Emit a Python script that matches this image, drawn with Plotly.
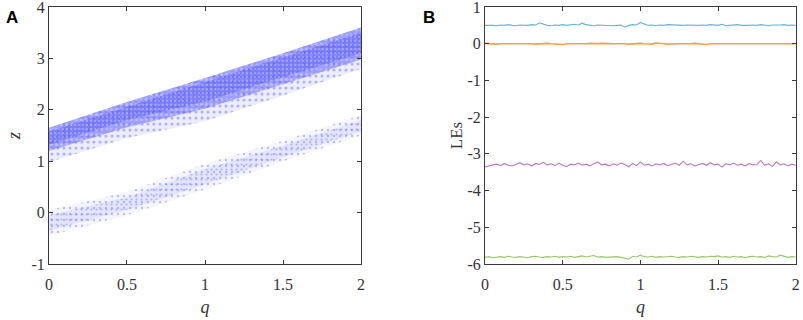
import plotly.graph_objects as go

# ---------------- Panel A: band outlines ----------------
q_edge = [0.0, 0.5, 1.0, 1.5, 2.0]
upper_top = [1.65, 2.15, 2.62, 3.10, 3.60]
upper_core_top = [1.58, 2.06, 2.54, 3.02, 3.50]
upper_core_bottom = [1.32, 1.80, 2.16, 2.64, 3.10]
upper_dense_bottom = [1.20, 1.66, 2.02, 2.50, 2.98]
upper_tail_bottom = [0.98, 1.45, 1.78, 2.28, 2.80]
lower_top = [0.05, 0.40, 0.95, 1.40, 1.90]
lower_core_top = [-0.05, 0.30, 0.85, 1.30, 1.80]
lower_core_bottom = [-0.35, 0.05, 0.55, 1.08, 1.58]
lower_bottom = [-0.45, -0.05, 0.45, 1.00, 1.50]

# ---------------- Panel B: Lyapunov exponents ----------------
q_le = [0.0, 0.025, 0.05, 0.075, 0.1, 0.125, 0.15, 0.175, 0.2, 0.225,
        0.25, 0.275, 0.3, 0.325, 0.35, 0.375, 0.4, 0.425, 0.45, 0.475,
        0.5, 0.525, 0.55, 0.575, 0.6, 0.625, 0.65, 0.675, 0.7, 0.725,
        0.75, 0.775, 0.8, 0.825, 0.85, 0.875, 0.9, 0.925, 0.95, 0.975,
        1.0, 1.025, 1.05, 1.075, 1.1, 1.125, 1.15, 1.175, 1.2, 1.225,
        1.25, 1.275, 1.3, 1.325, 1.35, 1.375, 1.4, 1.425, 1.45, 1.475,
        1.5, 1.525, 1.55, 1.575, 1.6, 1.625, 1.65, 1.675, 1.7, 1.725,
        1.75, 1.775, 1.8, 1.825, 1.85, 1.875, 1.9, 1.925, 1.95, 1.975,
        2.0]
le1 = [0.50, 0.51, 0.50, 0.49, 0.51, 0.50, 0.52, 0.50, 0.49, 0.51,
       0.50, 0.50, 0.52, 0.51, 0.57, 0.53, 0.50, 0.49, 0.51, 0.50,
       0.52, 0.50, 0.51, 0.53, 0.51, 0.56, 0.52, 0.50, 0.49, 0.51,
       0.50, 0.51, 0.50, 0.49, 0.50, 0.51, 0.45, 0.50, 0.52, 0.51,
       0.58, 0.53, 0.50, 0.51, 0.49, 0.51, 0.50, 0.52, 0.51, 0.50,
       0.49, 0.50, 0.51, 0.50, 0.49, 0.50, 0.51, 0.50, 0.52, 0.51,
       0.50, 0.53, 0.49, 0.50, 0.51, 0.52, 0.50, 0.49, 0.50, 0.51,
       0.50, 0.52, 0.50, 0.49, 0.51, 0.50, 0.51, 0.52, 0.50, 0.51,
       0.50]
le2 = [0.01, 0.00, 0.00, -0.01, 0.00, 0.01, 0.00, 0.00, -0.01, 0.00,
       0.00, 0.01, 0.00, -0.01, 0.00, 0.00, 0.01, 0.00, -0.01, 0.00,
       -0.02, 0.00, 0.01, 0.00, 0.00, -0.01, 0.00, 0.01, 0.00, 0.00,
       0.01, 0.00, -0.01, 0.00, 0.00, 0.01, 0.00, -0.01, 0.00, 0.00,
       0.01, 0.00, 0.00, -0.01, 0.02, 0.00, 0.00, -0.01, 0.00, 0.01,
       0.00, 0.00, -0.01, 0.00, 0.01, 0.00, 0.00, -0.02, 0.00, 0.00,
       0.01, 0.00, -0.01, 0.00, 0.00, 0.01, 0.00, 0.00, -0.01, 0.00,
       0.00, 0.01, 0.00, 0.00, -0.01, 0.00, 0.01, 0.00, 0.00, 0.00,
       0.00]
le3 = [-3.36, -3.32, -3.30, -3.28, -3.32, -3.26, -3.31, -3.33, -3.28, -3.24,
       -3.30, -3.27, -3.33, -3.26, -3.29, -3.23, -3.30, -3.27, -3.32, -3.25,
       -3.31, -3.35, -3.28, -3.30, -3.25, -3.31, -3.28, -3.33, -3.27, -3.22,
       -3.30, -3.28, -3.33, -3.27, -3.31, -3.25, -3.29, -3.35, -3.26, -3.32,
       -3.22, -3.31, -3.28, -3.33, -3.27, -3.30, -3.26, -3.32, -3.29, -3.25,
       -3.31, -3.20, -3.30, -3.27, -3.33, -3.29, -3.26, -3.31, -3.24, -3.30,
       -3.28, -3.36, -3.27, -3.30, -3.25, -3.31, -3.28, -3.33, -3.26, -3.30,
       -3.29, -3.18, -3.31, -3.27, -3.34, -3.22, -3.30, -3.27, -3.33, -3.28,
       -3.31]
le4 = [-5.82, -5.80, -5.83, -5.81, -5.80, -5.82, -5.79, -5.81, -5.82, -5.80,
       -5.81, -5.83, -5.80, -5.79, -5.81, -5.82, -5.80, -5.81, -5.79, -5.82,
       -5.80, -5.81, -5.79, -5.82, -5.80, -5.78, -5.81, -5.80, -5.77, -5.81,
       -5.80, -5.82, -5.81, -5.79, -5.80, -5.82, -5.84, -5.87, -5.79, -5.81,
       -5.76, -5.80, -5.81, -5.79, -5.82, -5.80, -5.81, -5.80, -5.79, -5.81,
       -5.82, -5.80, -5.81, -5.79, -5.80, -5.82, -5.80, -5.81, -5.79, -5.80,
       -5.78, -5.81, -5.80, -5.82, -5.79, -5.81, -5.80, -5.83, -5.80, -5.79,
       -5.81, -5.80, -5.82, -5.78, -5.80, -5.81, -5.76, -5.80, -5.82, -5.80,
       -5.81]

x_ticks = [0, 0.5, 1, 1.5, 2]
x_tick_text = ["0", "0.5", "1", "1.5", "2"]
yA_ticks = [-1, 0, 1, 2, 3, 4]
yA_tick_text = ["-1", "0", "1", "2", "3", "4"]
yB_ticks = [-6, -5, -4, -3, -2, -1, 0, 1]
yB_tick_text = ["-6", "-5", "-4", "-3", "-2", "-1", "0", "1"]

SERIF = "Liberation Serif, Times New Roman, serif"
AXC = "#3a3a3a"

fig = go.Figure()


def add_band(top, bottom, fillcolor, size, sol, fg):
    bx = q_edge + q_edge[::-1]
    by = top + bottom[::-1]
    fig.add_trace(go.Scatter(
        x=bx, y=by, fill="toself", mode="lines", line=dict(width=0),
        fillcolor=fillcolor,
        fillpattern=dict(shape=".", size=size, solidity=sol, fgcolor=fg,
                         fillmode="overlay"),
        hoverinfo="skip", showlegend=False, xaxis="x", yaxis="y"))


# upper band: faint outer tail, medium body, denser core (white speckles on blue)
add_band(upper_top, upper_tail_bottom, "rgba(110,110,255,0.12)", 6, 0.20, "rgba(90,90,255,0.85)")
add_band(upper_top, upper_dense_bottom, "rgba(95,95,255,0.55)", 5, 0.30, "rgba(255,255,255,0.65)")
add_band(upper_core_top, upper_core_bottom, "rgba(75,75,250,0.45)", 4, 0.25, "rgba(255,255,255,0.55)")
# lower band: sparse
add_band(lower_top, lower_bottom, "rgba(130,130,255,0.08)", 6, 0.14, "rgba(110,110,255,0.85)")
add_band(lower_core_top, lower_core_bottom, "rgba(120,120,255,0.12)", 5, 0.14, "rgba(100,100,255,0.85)")

# Lyapunov exponents
for vals, col, w in [(le1, "#64b4e6", 1.1), (le2, "#f0a050", 1.6),
                     (le3, "#b877c8", 1.1), (le4, "#98c86a", 1.1)]:
    fig.add_trace(go.Scatter(x=q_le, y=vals, mode="lines",
                             line=dict(color=col, width=w),
                             showlegend=False, xaxis="x2", yaxis="y2"))

axis_common = dict(showline=True, linecolor=AXC, linewidth=1, mirror="ticks",
                   ticks="inside", ticklen=4, tickcolor=AXC, showgrid=False,
                   zeroline=False, automargin=False, ticklabeloverflow="allow",
                   tickfont=dict(family=SERIF, size=16, color="#333"))

fig.update_layout(
    width=803, height=320,
    margin=dict(l=0, r=0, t=0, b=0),
    paper_bgcolor="white", plot_bgcolor="white",
    xaxis=dict(domain=[0.061, 0.4496], range=[0, 2], tickvals=x_ticks,
               ticktext=x_tick_text, anchor="y", ticklabelstandoff=6,
               title=dict(text="<i>q</i>", font=dict(family=SERIF, size=18, color="#333"),
                          standoff=8),
               **axis_common),
    yaxis=dict(domain=[0.175, 0.978], range=[-1, 4], tickvals=yA_ticks,
               ticktext=yA_tick_text, anchor="x",
               title=dict(text="<i>z</i>", font=dict(family=SERIF, size=18, color="#333"),
                          standoff=6),
               **axis_common),
    xaxis2=dict(domain=[0.604, 0.991], range=[0, 2], tickvals=x_ticks,
                ticktext=x_tick_text, anchor="y2", ticklabelstandoff=6,
                title=dict(text="<i>q</i>", font=dict(family=SERIF, size=18, color="#333"),
                           standoff=8),
                **axis_common),
    yaxis2=dict(domain=[0.175, 0.978], range=[-6, 1], tickvals=yB_ticks,
                ticktext=yB_tick_text, anchor="x2",
                title=dict(text="LEs", font=dict(family=SERIF, size=17, color="#333"),
                           standoff=0),
                **axis_common),
    annotations=[
        dict(text="<b>A</b>", x=4 / 803, y=1 - 6 / 320, xref="paper", yref="paper",
             xanchor="left", yanchor="top", showarrow=False,
             font=dict(family="Liberation Sans, Arial, sans-serif", size=17, color="black")),
        dict(text="<b>B</b>", x=421 / 803, y=1 - 6 / 320, xref="paper", yref="paper",
             xanchor="left", yanchor="top", showarrow=False,
             font=dict(family="Liberation Sans, Arial, sans-serif", size=17, color="black")),
    ],
)

fig.write_html("out.html", config={"displayModeBar": False},
               post_script="document.body.style.margin='0';document.body.style.overflow='hidden';")
